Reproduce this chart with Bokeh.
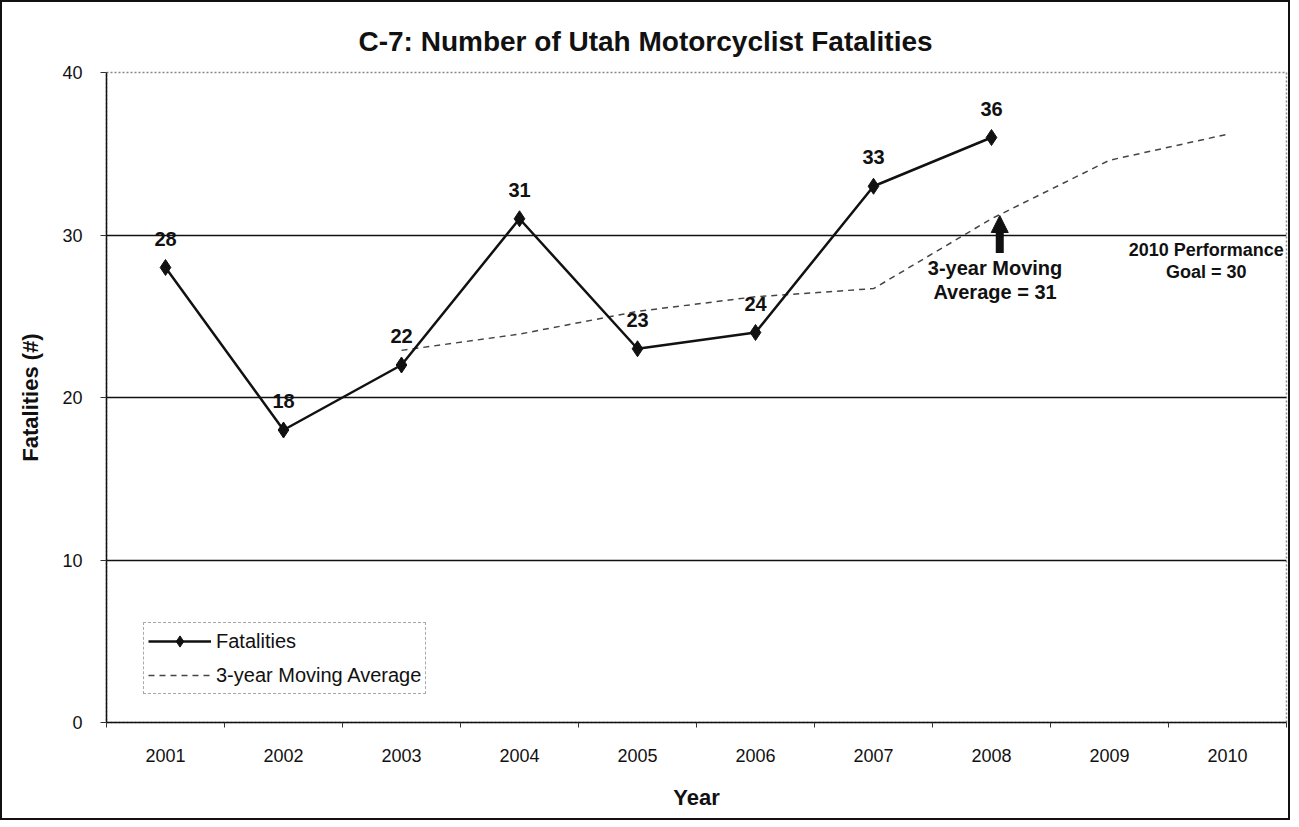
from bokeh.plotting import figure
from bokeh.models import (Range1d, FixedTicker, Label, Arrow, NormalHead, Legend, LegendItem,
                          ColumnDataSource)
from bokeh.core.properties import value
from bokeh.embed import file_html
from bokeh.resources import INLINE

# ---- data ----
years = [2001, 2002, 2003, 2004, 2005, 2006, 2007, 2008, 2009, 2010]
year_labels = ["2001", "2002", "2003", "2004", "2005", "2006", "2007", "2008", "2009", "2010"]
fatal_years = [2001, 2002, 2003, 2004, 2005, 2006, 2007, 2008]
fatalities = [28, 18, 22, 31, 23, 24, 33, 36]
ma_years = [2003, 2004, 2005, 2006, 2007, 2008, 2009, 2010]
moving_avg = [22.9, 23.9, 25.3, 26.2, 26.7, 31.0, 34.6, 36.2]
y_ticks = [0, 10, 20, 30, 40]
grid_values = [10, 20, 30]

FONT = "Liberation Sans"

p = figure(frame_width=1180, frame_height=650,
           min_border_left=104, min_border_top=70, min_border_right=2, min_border_bottom=96,
           x_range=Range1d(2000.5, 2010.5), y_range=Range1d(0, 40),
           output_backend="svg", toolbar_location=None, tools="")
p.styles = {"border": "2px solid #111"}
p.background_fill_color = "white"
p.border_fill_color = "white"
p.outline_line_color = "#888888"
p.outline_line_dash = "2 2"
p.outline_line_width = 1.5

# title
p.title.text = "C-7: Number of Utah Motorcyclist Fatalities"
p.title.text_font = FONT
p.title.text_font_style = "bold"
p.title.text_font_size = "28px"
p.title.text_color = "#111"
p.title.align = "left"
p.title.offset = 252
p.title.standoff = 31

# axes
p.xaxis.ticker = FixedTicker(ticks=years, minor_ticks=[y - 0.5 for y in years] + [2010.5])
p.xaxis.major_label_overrides = {y: l for y, l in zip(years, year_labels)}
p.xaxis.major_tick_out = 0
p.xaxis.major_tick_in = 0
p.xaxis.minor_tick_out = 5
p.xaxis.minor_tick_in = 0
p.xaxis.minor_tick_line_color = "#333"
p.xaxis.axis_line_color = "#111"
p.xaxis.axis_line_width = 1.5
p.xaxis.major_label_text_font = FONT
p.xaxis.major_label_text_font_size = "18px"
p.xaxis.major_label_text_color = "#111"
p.xaxis.major_label_standoff = 21
p.xaxis.axis_label = "Year"
p.xaxis.axis_label_text_font = FONT
p.xaxis.axis_label_text_font_style = "bold"
p.xaxis.axis_label_text_font_size = "22px"
p.xaxis.axis_label_text_color = "#111"
p.xaxis.axis_label_standoff = 20

p.yaxis.ticker = FixedTicker(ticks=y_ticks)
p.yaxis.major_tick_out = 6
p.yaxis.major_tick_in = 0
p.yaxis.minor_tick_out = 0
p.yaxis.minor_tick_in = 0
p.yaxis.major_tick_line_color = "#333"
p.yaxis.axis_line_color = "#111"
p.yaxis.axis_line_width = 1.5
p.yaxis.major_label_text_font = FONT
p.yaxis.major_label_text_font_size = "18px"
p.yaxis.major_label_text_color = "#111"
p.yaxis.major_label_standoff = 18
p.yaxis.axis_label = "Fatalities (#)"
p.yaxis.axis_label_text_font = FONT
p.yaxis.axis_label_text_font_style = "bold"
p.yaxis.axis_label_text_font_size = "22px"
p.yaxis.axis_label_text_color = "#111"
p.yaxis.axis_label_standoff = 16

p.xgrid.visible = False
p.ygrid.ticker = FixedTicker(ticks=grid_values)
p.ygrid.grid_line_color = "#111"
p.ygrid.grid_line_width = 1.5

# series
src = ColumnDataSource(dict(x=fatal_years, y=fatalities, t=[str(v) for v in fatalities]))
ma = p.line(ma_years, moving_avg, line_color="#444444", line_width=1.5, line_dash="6 5")
fl = p.line("x", "y", source=src, line_color="#111", line_width=2.5)
fm = p.scatter("x", "y", source=src, marker="diamond", size=16,
               fill_color="#111", line_color="#111")
p.text("x", "y", text="t", source=src, text_font=value(FONT), text_font_style="bold",
       text_font_size="20px", text_align="center", text_baseline="middle",
       y_offset=-29, text_color="#111")

# annotations
p.add_layout(Arrow(end=NormalHead(size=17, fill_color="#111", line_color="#111"),
                   x_start=2008.07, y_start=28.9, x_end=2008.07, y_end=31.2,
                   line_width=8, line_color="#111"))

for txt, x, y, fs in [("3-year Moving", 2008.03, 27.94, "20px"),
                      ("Average = 31", 2008.03, 26.5, "20px"),
                      ("2010 Performance", 2009.82, 29.1, "18px"),
                      ("Goal = 30", 2009.82, 27.7, "18px")]:
    p.add_layout(Label(x=x, y=y, text=txt, text_font=FONT, text_font_style="bold",
                       text_font_size=fs, text_align="center", text_baseline="middle",
                       text_color="#111"))

legend = Legend(items=[LegendItem(label="Fatalities", renderers=[fl, fm]),
                       LegendItem(label="3-year Moving Average", renderers=[ma])],
                location=(37, 28), label_text_font=FONT, label_text_font_size="20px",
                label_text_color="#111", glyph_width=63, glyph_height=28, spacing=6,
                padding=4, margin=0, label_standoff=5,
                border_line_color="#555", border_line_dash="2 1", border_line_width=1,
                background_fill_alpha=1.0)
p.add_layout(legend)

open("out.html", "w").write(file_html(p, INLINE))
